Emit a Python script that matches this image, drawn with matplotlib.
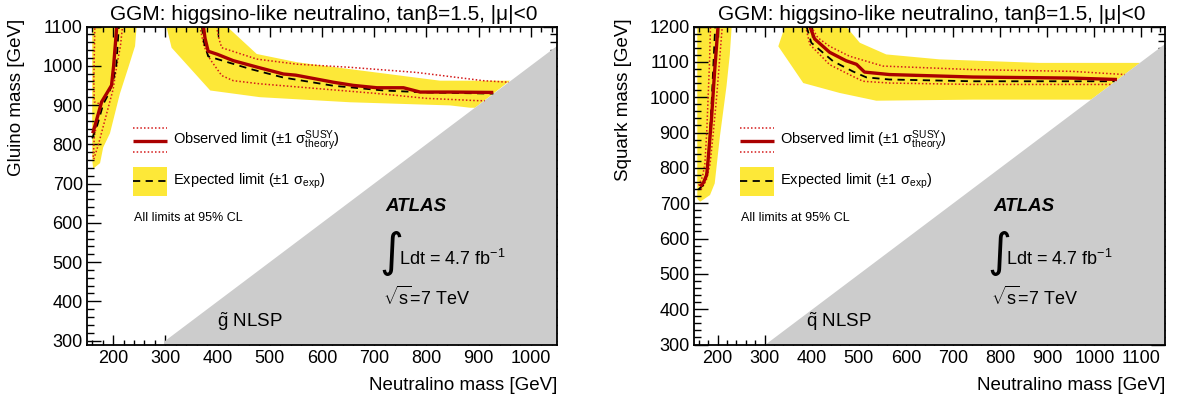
import matplotlib
matplotlib.use("Agg")
import matplotlib.pyplot as plt
from matplotlib.patches import Rectangle
from matplotlib.ticker import MultipleLocator

plt.rcParams["font.family"] = "Liberation Sans"
plt.rcParams["mathtext.fontset"] = "custom"
plt.rcParams["mathtext.rm"] = "Liberation Sans"
plt.rcParams["mathtext.it"] = "Liberation Sans:italic"
plt.rcParams["mathtext.bf"] = "Liberation Sans:bold"
plt.rcParams["mathtext.sf"] = "Liberation Sans"

# ── Gluino NLSP limits (neutralino mass vs gluino mass, GeV) ──
# every contour comes in two branches: low neutralino mass (a) and high (b)
gl_band_a_x = [160, 245, 242, 229, 213, 194, 181, 175, 162, 160]
gl_band_a_y = [1100, 1100, 1050, 995, 929, 828, 792, 752, 738, 760]
gl_band_b_x = [302, 418, 475, 552, 650, 826, 960, 893, 884, 845, 654, 481, 386, 312]
gl_band_b_y = [1100, 1100, 1030, 1009, 992, 962, 962, 893, 893, 899, 907, 920, 937, 1046]

gl_obs_a_x = [161, 168, 178, 188, 197, 201, 207]
gl_obs_a_y = [828, 860, 908, 930, 950, 1000, 1100]
gl_obs_b_x = [373, 376, 382, 400, 430, 480, 526, 550, 622, 660, 705, 756, 788, 850, 928]
gl_obs_b_y = [1100, 1070, 1037, 1029, 1013, 995, 979, 976, 958, 950, 944, 944, 933, 933, 932]

gl_exp_a_x = [160, 170, 181, 192, 200, 206, 211]
gl_exp_a_y = [815, 850, 902, 930, 962, 1000, 1100]
gl_exp_b_x = [370, 374, 382, 462, 526, 622, 718, 800, 928]
gl_exp_b_y = [1100, 1060, 1024, 992, 970, 949, 937, 932, 929]

gl_up_a_x = [163, 172, 182, 192, 200, 207, 214, 218]
gl_up_a_y = [762, 800, 850, 900, 940, 1000, 1050, 1100]
gl_up_b_x = [398, 403, 408, 475, 552, 654, 781, 909, 958]
gl_up_b_y = [1100, 1067, 1046, 1017, 1004, 996, 983, 962, 958]

gl_dn_a_x = [162, 164, 170, 176, 164, 163, 165]
gl_dn_a_y = [768, 820, 860, 902, 908, 960, 1100]
gl_dn_b_x = [366, 374, 386, 408, 430, 481, 590, 700, 800, 900, 912]
gl_dn_b_y = [1100, 1050, 1016, 975, 962, 954, 942, 930, 917, 911, 911]

# ── Squark NLSP limits (neutralino mass vs squark mass, GeV) ──
sq_band_a_x = [157, 230, 226, 219, 205, 194, 184, 163, 157]
sq_band_a_y = [1200, 1200, 1120, 1031, 889, 756, 723, 704, 712]
sq_band_b_x = [343, 473, 502, 558, 671, 883, 1097, 993, 953, 742, 537, 459, 382, 329]
sq_band_b_y = [1200, 1200, 1154, 1121, 1107, 1097, 1097, 993, 993, 993, 990, 1012, 1040, 1144]

sq_obs_a_x = [163, 170, 177, 180, 187, 194, 201]
sq_obs_a_y = [747, 758, 780, 823, 936, 1078, 1200]
sq_obs_b_x = [396, 406, 438, 473, 495, 512, 565, 742, 953, 1048]
sq_obs_b_y = [1200, 1165, 1127, 1103, 1093, 1071, 1064, 1057, 1054, 1050]

sq_exp_a_x = [159, 170, 177, 182, 188, 195]
sq_exp_a_y = [738, 752, 785, 850, 1000, 1200]
sq_exp_b_x = [389, 399, 445, 487, 516, 565, 742, 953, 1043]
sq_exp_b_y = [1200, 1154, 1102, 1073, 1056, 1050, 1045, 1045, 1045]

sq_up_a_x = [165, 176, 184, 191, 198, 204, 210]
sq_up_a_y = [738, 765, 810, 900, 1000, 1100, 1200]
sq_up_b_x = [399, 413, 438, 480, 551, 742, 953, 1065]
sq_up_b_y = [1200, 1168, 1144, 1116, 1088, 1078, 1073, 1064]

sq_dn_a_x = [160, 168, 173, 177, 180, 183, 185]
sq_dn_a_y = [750, 775, 810, 900, 1000, 1100, 1200]
sq_dn_b_x = [387, 396, 438, 487, 509, 565, 742, 953, 1035]
sq_dn_b_y = [1200, 1149, 1092, 1059, 1045, 1040, 1036, 1036, 1036]

YELLOW = "#fde838"
OBS_RED = "#aa0000"
DOT_RED = "#d41a1a"
GRAY = "#cccccc"
DOTTED = (0, (1.0, 1.4))
DASHED = (0, (4, 3))

TITLE = "GGM: higgsino-like neutralino, tan\u03b2=1.5, |\u03bc|<0"


def draw_panel(ax, bands, obs, exp, up, dn, xlim, ylim, ylabel, nlsp):
    # allowed region ends where the neutralino gets heavier than the NLSP
    ax.fill([300, 300, xlim[1], xlim[1]], [300, ylim[0], ylim[0], xlim[1]],
            color=GRAY, lw=0, zorder=2)
    for bx, by in bands:
        ax.fill(bx, by, color=YELLOW, lw=0, zorder=1)
    for lx, ly in up + dn:
        ax.plot(lx, ly, color=DOT_RED, lw=1.1, ls=DOTTED, zorder=3)
    for lx, ly in exp:
        ax.plot(lx, ly, color="black", lw=1.3, ls=DASHED, zorder=4)
    for lx, ly in obs:
        ax.plot(lx, ly, color=OBS_RED, lw=2.4, zorder=5, solid_capstyle="butt")

    ax.set_xlim(*xlim)
    ax.set_ylim(*ylim)
    ax.xaxis.set_major_locator(MultipleLocator(100))
    ax.xaxis.set_minor_locator(MultipleLocator(20))
    ax.yaxis.set_major_locator(MultipleLocator(100))
    ax.yaxis.set_minor_locator(MultipleLocator(20))
    ax.tick_params(which="both", direction="in", top=True, right=True,
                   labelsize=13, width=1.0, color="black")
    ax.tick_params(axis="x", which="major", length=7.5, pad=4)
    ax.tick_params(axis="x", which="minor", length=3.8)
    ax.tick_params(axis="y", which="major", length=10, pad=3)
    ax.tick_params(axis="y", which="minor", length=5)
    for spine in ax.spines.values():
        spine.set_linewidth(1.3)
        spine.set_zorder(10)

    ax.text(0.05, 1.038, TITLE, transform=ax.transAxes, fontsize=15,
            ha="left", va="center")
    ax.text(-0.150, 1.025, ylabel, transform=ax.transAxes, fontsize=13.5,
            rotation=90, ha="center", va="top")
    ax.text(1.0, -0.13, "Neutralino mass [GeV]", transform=ax.transAxes,
            fontsize=13.5, ha="right", va="center")

    # legend block
    tr = ax.transAxes
    for yy in (0.680, 0.605):
        ax.plot([0.097, 0.170], [yy, yy], transform=tr, color=DOT_RED,
                lw=1.1, ls=DOTTED, zorder=6)
    ax.plot([0.097, 0.170], [0.640, 0.640], transform=tr, color=OBS_RED,
            lw=2.4, zorder=6, solid_capstyle="butt")
    ax.text(0.183, 0.640, r"Observed limit ($\pm$1 $\mathrm{\sigma}^{\mathrm{SUSY}}_{\mathrm{theory}}$)",
            transform=tr, fontsize=10.5, ha="left", va="center")
    ax.add_patch(Rectangle((0.097, 0.468), 0.073, 0.090, transform=tr,
                           facecolor=YELLOW, lw=0, zorder=6))
    ax.plot([0.097, 0.170], [0.514, 0.514], transform=tr, color="black",
            lw=1.3, ls=DASHED, zorder=7)
    ax.text(0.183, 0.514, r"Expected limit ($\pm$1 $\mathrm{\sigma}_{\mathrm{exp}}$)",
            transform=tr, fontsize=10.5, ha="left", va="center")
    ax.text(0.099, 0.399, "All limits at 95% CL", transform=tr, fontsize=9,
            ha="left", va="center")

    # experiment label
    ax.text(0.635, 0.433, "ATLAS", transform=tr, fontsize=13.5,
            fontweight="bold", fontstyle="italic", ha="left", va="center", zorder=8)
    ax.text(0.622, 0.286, "\u222b", transform=tr, fontsize=33,
            family="DejaVu Sans", ha="left", va="center", zorder=8)
    ax.text(0.663, 0.268, r"Ldt = 4.7 fb$^{-1}$", transform=tr, fontsize=13,
            ha="left", va="center", zorder=8)
    ax.text(0.630, 0.148, r"$\sqrt{\mathrm{s}}$=7 TeV", transform=tr, fontsize=13,
            ha="left", va="center", zorder=8)
    ax.text(nlsp[1], 0.072, nlsp[0], transform=tr, fontsize=13.5,
            ha="left", va="center", zorder=8)


fig = plt.figure(figsize=(11.77, 4.04), dpi=100)
fig.patch.set_facecolor("white")
ax1 = fig.add_axes([87 / 1177, 1 - 344.5 / 404, 470 / 1177, 318 / 404])
ax2 = fig.add_axes([694 / 1177, 1 - 344.5 / 404, 471 / 1177, 318 / 404])

# ── Left: gluino NLSP ───────────────────────────
draw_panel(
    ax1,
    bands=[(gl_band_a_x, gl_band_a_y), (gl_band_b_x, gl_band_b_y)],
    obs=[(gl_obs_a_x, gl_obs_a_y), (gl_obs_b_x, gl_obs_b_y)],
    exp=[(gl_exp_a_x, gl_exp_a_y), (gl_exp_b_x, gl_exp_b_y)],
    up=[(gl_up_a_x, gl_up_a_y), (gl_up_b_x, gl_up_b_y)],
    dn=[(gl_dn_a_x, gl_dn_a_y), (gl_dn_b_x, gl_dn_b_y)],
    xlim=(150, 1050), ylim=(290, 1100),
    ylabel="Gluino mass [GeV]",
    nlsp=(r"$\tilde{\mathrm{g}}$ NLSP", 0.277),
)

# ── Right: squark NLSP ──────────────────────────
draw_panel(
    ax2,
    bands=[(sq_band_a_x, sq_band_a_y), (sq_band_b_x, sq_band_b_y)],
    obs=[(sq_obs_a_x, sq_obs_a_y), (sq_obs_b_x, sq_obs_b_y)],
    exp=[(sq_exp_a_x, sq_exp_a_y), (sq_exp_b_x, sq_exp_b_y)],
    up=[(sq_up_a_x, sq_up_a_y), (sq_up_b_x, sq_up_b_y)],
    dn=[(sq_dn_a_x, sq_dn_a_y), (sq_dn_b_x, sq_dn_b_y)],
    xlim=(150, 1150), ylim=(300, 1200),
    ylabel="Squark mass [GeV]",
    nlsp=(r"$\tilde{\mathrm{q}}$ NLSP", 0.238),
)

fig.savefig("out.png", dpi=100, facecolor="white")
